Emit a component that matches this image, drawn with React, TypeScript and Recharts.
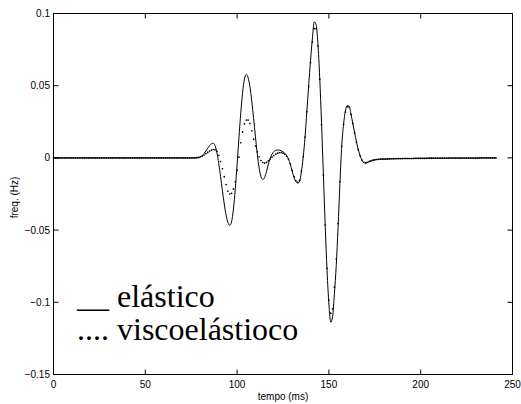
import { Line, LineChart, XAxis, YAxis } from "recharts";

// one sample per ms, index = tempo (ms)
const elasticoFreq = [
  // 0-69
  0, 0, 0, 0, 0, 0, 0, 0, 0, 0,
  0, 0, 0, 0, 0, 0, 0, 0, 0, 0,
  0, 0, 0, 0, 0, 0, 0, 0, 0, 0,
  0, 0, 0, 0, 0, 0, 0, 0, 0, 0,
  0, 0, 0, 0, 0, 0, 0, 0, 0, 0,
  0, 0, 0, 0, 0, 0, 0, 0, 0, 0,
  0, 0, 0, 0, 0, 0, 0, 0, 0, 0,
  // 70-77
  0, 0, 0, 0, 0, 0, 0, 0,
  // 78-87
  0, 0.0002, 0.0006, 0.0015, 0.003, 0.0048, 0.0067, 0.0085, 0.0097, 0.0102,
  // 88-97
  0.0085, 0.0037, -0.0038, -0.0129, -0.0227, -0.0319, -0.0396, -0.0447, -0.0467, -0.0441,
  // 98-107
  -0.0354, -0.0216, -0.0045, 0.0139, 0.0312, 0.0453, 0.0547, 0.0578, 0.0556, 0.0492,
  // 108-117
  0.0393, 0.0273, 0.0145, 0.0026, -0.007, -0.013, -0.0149, -0.0135, -0.0095, -0.0045,
  // 118-127
  -0.0005, 0.0025, 0.0043, 0.0052, 0.0055, 0.0054, 0.005, 0.0043, 0.0032, 0.0015,
  // 128-137
  -0.001, -0.0045, -0.0092, -0.0135, -0.0163, -0.0175, -0.0163, -0.0098, 0.0005, 0.0144,
  // 138-147
  0.0325, 0.0505, 0.0675, 0.0825, 0.0942, 0.0925, 0.0794, 0.0555, 0.0238, -0.0118,
  // 148-157
  -0.0473, -0.0783, -0.1012, -0.1138, -0.11, -0.094, -0.0745, -0.048, -0.0175, 0.0085,
  // 158-167
  0.0235, 0.0325, 0.0362, 0.0358, 0.0305, 0.024, 0.0175, 0.0112, 0.0058, 0.0015,
  // 168-177
  -0.0017, -0.0033, -0.0036, -0.0032, -0.0026, -0.002, -0.0016, -0.0013, -0.0011, -0.001,
  // 178-187
  -0.0009, -0.0008, -0.0008, -0.0007, -0.0007, -0.0006, -0.0006, -0.0006, -0.0005, -0.0005,
  // 188-197
  -0.0005, -0.0005, -0.0004, -0.0004, -0.0004, -0.0004, -0.0004, -0.0004, -0.0003, -0.0003,
  // 198-207
  -0.0003, -0.0003, -0.0003, -0.0003, -0.0003, -0.0003, -0.0002, -0.0002, -0.0002, -0.0002,
  // 208-217
  -0.0002, -0.0002, -0.0002, -0.0002, -0.0002, -0.0002, -0.0002, -0.0001, -0.0001, -0.0001,
  // 218-227
  -0.0001, -0.0001, -0.0001, -0.0001, -0.0001, -0.0001, -0.0001, -0.0001, -0.0001, -0.0001,
  // 228-237
  -0.0001, -0.0001, -0.0001, -0.0001, -0.0001, 0, 0, 0, 0, 0,
  // 238-241
  0, 0, 0, 0,
];

const viscoFreq = [
  // 0-69
  0, 0, 0, 0, 0, 0, 0, 0, 0, 0,
  0, 0, 0, 0, 0, 0, 0, 0, 0, 0,
  0, 0, 0, 0, 0, 0, 0, 0, 0, 0,
  0, 0, 0, 0, 0, 0, 0, 0, 0, 0,
  0, 0, 0, 0, 0, 0, 0, 0, 0, 0,
  0, 0, 0, 0, 0, 0, 0, 0, 0, 0,
  0, 0, 0, 0, 0, 0, 0, 0, 0, 0,
  // 70-77
  0, 0, 0, 0, 0, 0, 0, 0,
  // 78-87
  0.0002, 0.0004, 0.0008, 0.0013, 0.002, 0.0029, 0.0038, 0.0047, 0.0054, 0.0058,
  // 88-97
  0.0056, 0.0045, 0.0018, -0.0025, -0.0075, -0.013, -0.0185, -0.023, -0.025, -0.0245,
  // 98-107
  -0.0215, -0.0165, -0.0085, 0.0005, 0.0105, 0.018, 0.0235, 0.0262, 0.0262, 0.0238,
  // 108-117
  0.0188, 0.013, 0.0082, 0.0042, 0.0008, -0.0018, -0.0032, -0.0036, -0.0031, -0.002,
  // 118-127
  -0.0008, 0.0005, 0.0016, 0.0026, 0.0033, 0.0037, 0.0037, 0.0033, 0.0025, 0.0012,
  // 128-137
  -0.0008, -0.0042, -0.0088, -0.013, -0.0157, -0.0167, -0.0155, -0.0092, 0.0008, 0.0144,
  // 138-147
  0.032, 0.0495, 0.066, 0.0802, 0.0895, 0.0895, 0.0775, 0.0545, 0.0232, -0.0118,
  // 148-157
  -0.0465, -0.0765, -0.0985, -0.1075, -0.1045, -0.0895, -0.07, -0.0455, -0.0165, 0.0082,
  // 158-167
  0.0232, 0.0318, 0.0355, 0.0352, 0.0302, 0.0238, 0.0173, 0.011, 0.0057, 0.0015,
  // 168-177
  -0.0015, -0.003, -0.0034, -0.003, -0.0024, -0.0019, -0.0015, -0.0013, -0.0011, -0.001,
  // 178-187
  -0.0009, -0.0009, -0.0008, -0.0008, -0.0007, -0.0007, -0.0006, -0.0006, -0.0006, -0.0005,
  // 188-197
  -0.0005, -0.0005, -0.0005, -0.0004, -0.0004, -0.0004, -0.0004, -0.0004, -0.0004, -0.0003,
  // 198-207
  -0.0003, -0.0003, -0.0003, -0.0003, -0.0003, -0.0003, -0.0002, -0.0002, -0.0002, -0.0002,
  // 208-217
  -0.0002, -0.0002, -0.0002, -0.0002, -0.0002, -0.0002, -0.0001, -0.0001, -0.0001, -0.0001,
  // 218-227
  -0.0001, -0.0001, -0.0001, -0.0001, -0.0001, -0.0001, -0.0001, -0.0001, -0.0001, -0.0001,
  // 228-237
  -0.0001, -0.0001, -0.0001, -0.0001, 0, 0, 0, 0, 0, 0,
  // 238-241
  0, 0, 0, 0,
];

const xTicks = [0, 50, 100, 150, 200, 250];
const yTicks = [-0.15, -0.1, -0.05, 0, 0.05, 0.1];
const X_DOMAIN = [0, 250];
const Y_DOMAIN = [-0.15, 0.1];

const rows = elasticoFreq.map((e, i) => ({ t: i, elastico: e, visco: viscoFreq[i] }));

// plot box in page pixels (half pixels keep the 1px frame crisp)
const W = 521;
const H = 404;
const BOX = { left: 53.5, top: 13.5, right: 512.5, bottom: 374.5 };
const TICK = 5;

const sans = "'Liberation Sans', Arial, Helvetica, sans-serif";
const serif = "'Liberation Serif', 'Times New Roman', serif";
const tickStyle = { fill: "#000", fontSize: 10, fontFamily: sans };

const fmtY = (v: number) => (v === 0 ? "0" : (v < 0 ? "\u2212" : "") + String(Math.abs(v)));

// where the axis ticks fall on the box edges (for the inward matlab-style stubs)
const tickX = (v: number) =>
  BOX.left + ((v - X_DOMAIN[0]) / (X_DOMAIN[1] - X_DOMAIN[0])) * (BOX.right - BOX.left);
const tickY = (v: number) =>
  BOX.bottom - ((v - Y_DOMAIN[0]) / (Y_DOMAIN[1] - Y_DOMAIN[0])) * (BOX.bottom - BOX.top);

const App = () => {
  return (
    <div style={{ position: "absolute", left: 0, top: 0, width: W, height: H, background: "#fff" }}>
      <LineChart
        width={W}
        height={H}
        data={rows}
        margin={{ top: BOX.top, right: W - BOX.right, bottom: 0, left: 0 }}
      >
        <XAxis
          dataKey="t"
          type="number"
          domain={X_DOMAIN}
          ticks={xTicks}
          interval={0}
          height={H - BOX.bottom}
          tickSize={0}
          tickMargin={6}
          axisLine={{ stroke: "#000" }}
          tickLine={false}
          tick={tickStyle}
        />
        <YAxis
          type="number"
          domain={Y_DOMAIN}
          ticks={yTicks}
          interval={0}
          width={BOX.left}
          tickSize={0}
          tickMargin={3.5}
          tickFormatter={fmtY}
          axisLine={{ stroke: "#000" }}
          tickLine={false}
          tick={tickStyle}
        />
        <Line
          dataKey="elastico"
          type="monotone"
          stroke="#000"
          strokeWidth={1}
          dot={false}
          activeDot={false}
          isAnimationActive={false}
        />
        <Line
          dataKey="visco"
          stroke="none"
          dot={{ r: 0.85, fill: "#000", stroke: "none" }}
          activeDot={false}
          isAnimationActive={false}
        />
      </LineChart>
      <svg width={W} height={H} style={{ position: "absolute", left: 0, top: 0, pointerEvents: "none" }}>
        <rect
          x={BOX.left}
          y={BOX.top}
          width={BOX.right - BOX.left}
          height={BOX.bottom - BOX.top}
          fill="none"
          stroke="#000"
        />
        <g stroke="#000">
          {xTicks.map((v) => (
            <g key={`x${v}`}>
              <line x1={tickX(v)} x2={tickX(v)} y1={BOX.bottom} y2={BOX.bottom - TICK} />
              <line x1={tickX(v)} x2={tickX(v)} y1={BOX.top} y2={BOX.top + TICK} />
            </g>
          ))}
          {yTicks.map((v) => (
            <g key={`y${v}`}>
              <line x1={BOX.left} x2={BOX.left + TICK} y1={tickY(v)} y2={tickY(v)} />
              <line x1={BOX.right} x2={BOX.right - TICK} y1={tickY(v)} y2={tickY(v)} />
            </g>
          ))}
        </g>
        <text
          x={14.5}
          y={197.5}
          dy="0.35em"
          transform="rotate(-90 14.5 197.5)"
          textAnchor="middle"
          fontSize={10}
          fontFamily={sans}
          fill="#000"
        >
          freq. (Hz)
        </text>
        <text x={283} y={400} textAnchor="middle" fontSize={10} fontFamily={sans} fill="#000">
          tempo (ms)
        </text>
        <text x={77} y={306.5} fontSize={32} fontFamily={serif} fill="#000">
          __ elástico
        </text>
        <text x={77} y={340} fontSize={32} fontFamily={serif} fill="#000">
          .... viscoelástioco
        </text>
      </svg>
    </div>
  );
};

export default App;
